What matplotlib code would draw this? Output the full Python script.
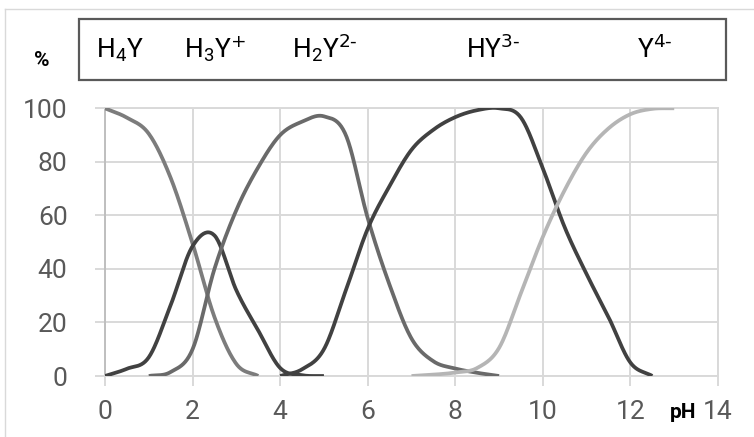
import numpy as np
import matplotlib
matplotlib.use("Agg")
import matplotlib.pyplot as plt
from matplotlib.lines import Line2D
from matplotlib.patches import Rectangle

# species distribution (pH, %)
ph_h4y = [0, 0.5, 1, 1.5, 2, 2.5, 3, 3.5]
pct_h4y = [100, 96.5, 90.5, 74, 49.5, 22, 4.5, 0]

ph_h3y = [0, 0.5, 1, 1.5, 2, 2.5, 3, 3.5, 4, 4.5, 5]
pct_h3y = [0, 2.7, 7, 26.5, 48.5, 52.5, 32, 17, 3, 0.3, 0]

ph_h2y = [1, 1.5, 2, 2.5, 3, 3.5, 4, 4.5, 5, 5.5, 6, 6.5, 7, 7.5, 8, 8.5, 9]
pct_h2y = [0, 1.5, 10, 40, 62, 78, 90, 95, 97, 90, 59, 34, 14, 5.5, 2.8, 1.2, 0]

ph_hy = [4, 4.5, 5, 5.5, 6, 6.5, 7, 7.5, 8, 8.5, 9, 9.5, 10, 10.5, 11, 11.5, 12, 12.5]
pct_hy = [0, 2.5, 10, 32, 55, 71, 84.5, 92, 96.7, 99.3, 100, 96.5, 77.5, 55.5, 38, 22, 5, 0]

ph_y = [7, 7.5, 8, 8.5, 9, 9.5, 10, 10.5, 11, 11.5, 12, 12.5, 13]
pct_y = [0, 0.5, 1.3, 3, 10.5, 31, 52, 69.5, 83.5, 92.5, 97.8, 99.8, 100]

species = [r"H$_4$Y", r"H$_3$Y$^{\text{+}}$", r"H$_2$Y$^{\text{2-}}$",
           r"HY$^{\text{3-}}$", r"Y$^{\text{4-}}$"]
label_x = [120, 215, 325, 493, 655]  # pixel centres inside the top box

W, H = 754, 437


def smooth(x, y, n=24):
    # Catmull-Rom, roughly what a "smoothed line" chart does
    x = np.asarray(x, float)
    y = np.asarray(y, float)
    px = np.concatenate([[2 * x[0] - x[1]], x, [2 * x[-1] - x[-2]]])
    py = np.concatenate([[2 * y[0] - y[1]], y, [2 * y[-1] - y[-2]]])
    t = np.linspace(0, 1, n, endpoint=False)
    xs, ys = [], []
    for i in range(1, len(px) - 2):
        for p, out in ((px, xs), (py, ys)):
            p0, p1, p2, p3 = p[i - 1], p[i], p[i + 1], p[i + 2]
            out.append(0.5 * (2 * p1 + (-p0 + p2) * t
                              + (2 * p0 - 5 * p1 + 4 * p2 - p3) * t ** 2
                              + (-p0 + 3 * p1 - 3 * p2 + p3) * t ** 3))
    xs.append([x[-1]])
    ys.append([y[-1]])
    return np.concatenate(xs), np.concatenate(ys)


plt.rcParams["font.family"] = ["Roboto", "DejaVu Sans"]
plt.rcParams["mathtext.default"] = "regular"

fig = plt.figure(figsize=(W / 100, H / 100), dpi=100)
ax = fig.add_axes([105 / W, 1 - 376 / H, (718 - 105) / W, (376 - 108.3) / H])

series = [
    (ph_h4y, pct_h4y, "#7c7c7c"),
    (ph_h3y, pct_h3y, "#414141"),
    (ph_h2y, pct_h2y, "#6a6a6a"),
    (ph_hy, pct_hy, "#414141"),
    (ph_y, pct_y, "#b5b5b5"),
]
for xs, ys, col in series:
    sx, sy = smooth(xs, ys)
    ax.plot(sx, sy, color=col, lw=2.7, solid_capstyle="butt", zorder=3)

ax.set_xlim(0, 14)
ax.set_ylim(0, 100)
ax.set_xticks(range(0, 15, 2))
ax.set_yticks(range(0, 101, 20))
ax.grid(True, color="#d9d9d9", lw=1.4)
ax.set_axisbelow(True)
for side in ("top", "right", "bottom"):
    ax.spines[side].set_color("#d9d9d9")
    ax.spines[side].set_linewidth(1.4)
ax.spines["left"].set_color("#bfbfbf")
ax.spines["left"].set_linewidth(1.4)
ax.tick_params(axis="x", length=7, width=1.4, color="#d9d9d9",
               labelsize=19, labelcolor="#595959", pad=10)
ax.tick_params(axis="y", length=7, width=1.4, color="#d9d9d9",
               labelsize=19, labelcolor="#595959", pad=20)

# outer chart frame (only top and left edges are inside the crop)
fig.add_artist(Line2D([5 / W, 1], [1 - 9 / H, 1 - 9 / H], color="#d9d9d9", lw=1))
fig.add_artist(Line2D([5 / W, 5 / W], [0, 1 - 9 / H], color="#d9d9d9", lw=1))

# species box
fig.add_artist(Rectangle((79 / W, 1 - 80 / H), (726 - 79) / W, (80 - 19) / H,
                         transform=fig.transFigure, fill=False,
                         edgecolor="#595959", lw=1.6))
for name, lx in zip(species, label_x):
    fig.text(lx / W, 1 - 58 / H, name, ha="center", va="baseline",
             fontsize=19, color="black")

fig.text(42 / W, 1 - 61 / H, "%", ha="center", va="center",
         fontsize=15, fontweight="bold", color="black")
fig.text(683 / W, 1 - 413 / H, "pH", ha="center", va="center",
         fontsize=15, fontweight="bold", color="black")

fig.savefig("out.png", dpi=100)
